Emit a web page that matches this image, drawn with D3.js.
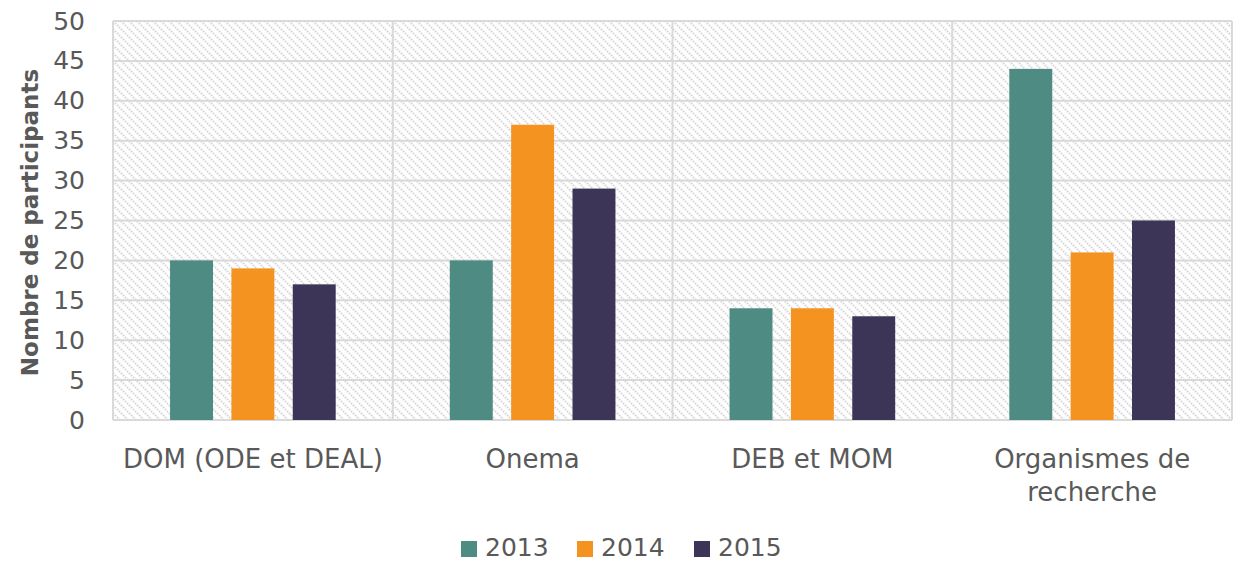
<!DOCTYPE html>
<html>
<head>
<meta charset="utf-8">
<script src="https://cdn.jsdelivr.net/npm/d3@7"></script>
<style>
  html, body { margin: 0; padding: 0; background: #fff; }
  svg { display: block; font-family: "DejaVu Sans", sans-serif; }
</style>
</head>
<body>
<figure id="bar" style="margin:0"></figure>
<script>
const categories = ["DOM (ODE et DEAL)", "Onema", "DEB et MOM", "Organismes de recherche"];
const years = ["2013", "2014", "2015"];
const values2013 = [20, 20, 14, 44];
const values2014 = [19, 37, 14, 21];
const values2015 = [17, 29, 13, 25];
const yTicks = [0, 5, 10, 15, 20, 25, 30, 35, 40, 45, 50];
const colors = ["#4e8b83", "#f4931f", "#3d3558"];

const width = 1234, height = 562;
const margin = { top: 21, right: 2, bottom: 142, left: 113 };
const innerW = width - margin.left - margin.right;
const innerH = height - margin.top - margin.bottom;

const series = [values2013, values2014, values2015];
const data = categories.map((c, i) => ({ label: c, values: years.map((y, j) => ({ year: y, value: series[j][i] })) }));

const svg = d3.select("figure#bar").append("svg")
  .attr("width", width)
  .attr("height", height);

// hatched background
const defs = svg.append("defs");
const pat = defs.append("pattern")
  .attr("id", "hatch")
  .attr("patternUnits", "userSpaceOnUse")
  .attr("width", 8).attr("height", 8);
pat.append("rect").attr("width", 8).attr("height", 8).attr("fill", "#fff");
pat.append("path")
  .attr("d", "M-2,-2 L10,10 M-2,6 L2,10 M6,-2 L10,2")
  .attr("stroke", "#d6d6d6")
  .attr("stroke-width", 2.2)
  .attr("stroke-dasharray", "1.6,1.2");

const g = svg.append("g").attr("transform", `translate(${margin.left},${margin.top})`);

const x0 = d3.scaleBand().domain(categories).range([0, innerW]).padding(0);
const x1 = d3.scaleBand().domain(years).range([0, x0.bandwidth()]).paddingInner(0.3).paddingOuter(0.93);
const y = d3.scaleLinear().domain([0, 50]).range([innerH, 0]);

g.append("rect")
  .attr("width", innerW).attr("height", innerH)
  .attr("fill", "url(#hatch)");

// horizontal grid
g.append("g").selectAll("line").data(yTicks).enter().append("line")
  .attr("x1", 0).attr("x2", innerW)
  .attr("y1", d => y(d)).attr("y2", d => y(d))
  .attr("stroke", "#d9d9d9").attr("stroke-width", 2);

// vertical separators
g.append("g").selectAll("line").data(categories.concat([null])).enter().append("line")
  .attr("x1", (d, i) => i * x0.step()).attr("x2", (d, i) => i * x0.step())
  .attr("y1", 0).attr("y2", innerH)
  .attr("stroke", "#d9d9d9").attr("stroke-width", 2);

// bars
const groups = g.selectAll(".grp").data(data).enter().append("g")
  .attr("transform", d => `translate(${x0(d.label)},0)`);
groups.selectAll("rect").data(d => d.values).enter().append("rect")
  .attr("x", d => x1(d.year))
  .attr("y", d => y(d.value))
  .attr("width", x1.bandwidth())
  .attr("height", d => innerH - y(d.value))
  .attr("fill", (d, i) => colors[i]);

// y axis labels
const yAxis = g.append("g").call(d3.axisLeft(y).tickValues(yTicks).tickSize(0).tickPadding(28));
yAxis.select(".domain").remove();
yAxis.selectAll("text")
  .attr("font-family", "DejaVu Sans, sans-serif")
  .attr("font-size", 25)
  .attr("fill", "#595959");

// x axis labels
const xAxis = g.append("g").attr("transform", `translate(0,${innerH})`)
  .call(d3.axisBottom(x0).tickSize(0).tickPadding(30));
xAxis.select(".domain").remove();
xAxis.selectAll("text")
  .attr("font-family", "DejaVu Sans, sans-serif")
  .attr("font-size", 26)
  .attr("fill", "#595959")
  .each(function (d) {
    if (d === "Organismes de recherche") {
      const t = d3.select(this);
      t.text(null);
      t.append("tspan").attr("x", 0).attr("dy", "0.71em").text("Organismes de");
      t.append("tspan").attr("x", 0).attr("dy", "1.27em").text("recherche");
      t.attr("dy", null);
    }
  });

// y title
svg.append("text")
  .attr("transform", `translate(38,${margin.top + innerH / 2 + 2}) rotate(-90)`)
  .attr("text-anchor", "middle")
  .attr("font-size", 23)
  .attr("font-weight", "bold")
  .attr("fill", "#595959")
  .text("Nombre de participants");

// legend
const legend = svg.append("g").attr("transform", "translate(461,541)");
const lx = [0, 116, 233];
years.forEach((yr, i) => {
  const item = legend.append("g").attr("transform", `translate(${lx[i]},0)`);
  item.append("rect").attr("width", 16).attr("height", 16).attr("fill", colors[i]);
  item.append("text").attr("x", 24).attr("y", 15)
    .attr("font-size", 25).attr("fill", "#595959").text(yr);
});
</script>
</body>
</html>
